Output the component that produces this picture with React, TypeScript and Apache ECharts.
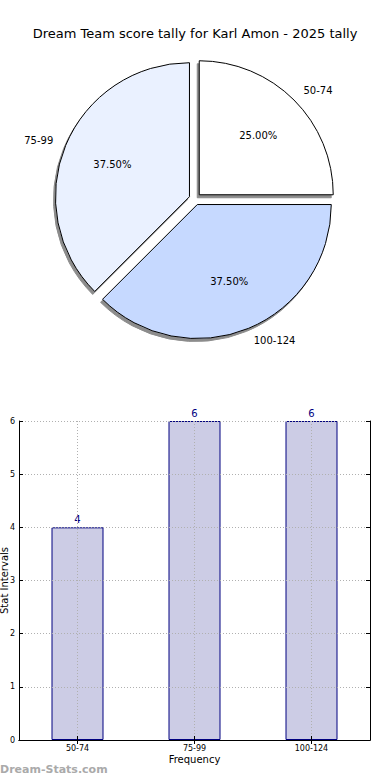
import React, { useEffect, useRef } from "react";
import * as echarts from "echarts";

const titleText = "Dream Team score tally for Karl Amon - 2025 tally";
const categories = ["50-74", "75-99", "100-124"];
const counts = [4, 6, 6];
const pieColors = ["#ffffff", "#eaf1ff", "#c6d9ff"];
const yTicks = [0, 1, 2, 3, 4, 5, 6];
const FONT = "DejaVu Sans";

export default function App() {
  const ref = useRef<HTMLDivElement>(null);
  useEffect(() => {
    if (!ref.current) return;
    const chart = echarts.init(ref.current, undefined, { renderer: "svg" });
    const total = counts.reduce((a, b) => a + b, 0);
    const pieData = categories.map((c, i) => ({
      name: c,
      value: counts[i],
      selected: true,
      itemStyle: { color: pieColors[i] },
    }));
    const R = 134;
    chart.setOption({
      animation: false,
      textStyle: { fontFamily: FONT },
      title: {
        text: titleText,
        left: "center",
        top: 22,
        textStyle: { fontFamily: FONT, fontSize: 13, fontWeight: "normal", color: "#000" },
      },
      grid: {
        left: 19,
        top: 421,
        width: 351,
        height: 319,
        show: false,
        containLabel: false,
        outerBoundsMode: "none",
      },
      xAxis: [
        {
          type: "category",
          data: categories,
          z: 3,
          axisLine: { show: true, lineStyle: { color: "#000", width: 1 } },
          axisTick: { show: true, inside: true, alignWithLabel: true, length: 4, lineStyle: { color: "#000" } },
          axisLabel: { fontSize: 8, color: "#000", margin: 4, fontFamily: FONT },
          splitLine: { show: true, alignWithLabel: true, lineStyle: { color: "#b0b0b0", type: [1, 2] } },
          name: "Frequency",
          nameLocation: "middle",
          nameGap: 14,
          nameMoveOverlap: false,
          nameTextStyle: { fontSize: 10, color: "#000", fontFamily: FONT },
        },
        {
          type: "category",
          data: categories,
          position: "top",
          z: 3,
          axisLine: { show: true, lineStyle: { color: "#000", width: 1 } },
          axisTick: { show: true, inside: true, alignWithLabel: true, length: 4, lineStyle: { color: "#000" } },
          axisLabel: { show: false },
          splitLine: { show: false },
        },
      ],
      yAxis: [
        {
          type: "value",
          min: 0,
          max: 6,
          interval: 1,
          z: 3,
          axisLine: { show: true, lineStyle: { color: "#000", width: 1 } },
          axisTick: { show: true, inside: true, length: 4, lineStyle: { color: "#000" } },
          axisLabel: {
            fontSize: 8,
            color: "#000",
            margin: 4,
            fontFamily: FONT,
            formatter: (v: number) => (yTicks.includes(v) ? String(v) : ""),
          },
          splitLine: { show: true, lineStyle: { color: "#b0b0b0", type: [1, 2] } },
          name: "Stat Intervals",
          nameLocation: "middle",
          nameRotate: 90,
          nameGap: 9.5,
          nameMoveOverlap: false,
          nameTextStyle: { fontSize: 10, color: "#000", fontFamily: FONT, verticalAlign: "bottom" },
        },
        {
          type: "value",
          min: 0,
          max: 6,
          interval: 1,
          position: "right",
          z: 3,
          axisLine: { show: true, lineStyle: { color: "#000", width: 1 } },
          axisTick: { show: true, inside: true, length: 4, lineStyle: { color: "#000" } },
          axisLabel: { show: false },
          splitLine: { show: false },
        },
      ],
      series: [
        {
          type: "pie",
          center: [195, 199],
          radius: [0, R],
          startAngle: 0,
          clockwise: false,
          selectedMode: "multiple",
          selectedOffset: 6,
          avoidLabelOverlap: false,
          itemStyle: {
            borderColor: "#000",
            borderWidth: 1,
            shadowColor: "rgba(0,0,0,0.45)",
            shadowOffsetX: -2,
            shadowOffsetY: 3,
            shadowBlur: 1,
          },
          label: {
            show: true,
            position: "outside",
            fontSize: 10,
            color: "#000",
            fontFamily: FONT,
            distanceToLabelLine: 0,
          },
          labelLine: { show: false, length: R * 0.1, length2: 0 },
          emphasis: { disabled: true },
          data: pieData,
        },
        {
          type: "pie",
          center: [195, 199],
          radius: [R * 0.2, R],
          startAngle: 0,
          clockwise: false,
          selectedMode: "multiple",
          selectedOffset: 6,
          silent: true,
          avoidLabelOverlap: false,
          itemStyle: { color: "transparent", borderWidth: 0 },
          label: {
            show: true,
            position: "inside",
            fontSize: 10,
            color: "#000",
            fontFamily: FONT,
            formatter: (p: any) => ((p.value / total) * 100).toFixed(2) + "%",
          },
          labelLine: { show: false },
          emphasis: { disabled: true },
          data: pieData.map((d) => ({ ...d, itemStyle: { color: "transparent" } })),
        },
        {
          type: "bar",
          data: counts,
          barWidth: 52,
          itemStyle: { color: "#ccccE5", borderColor: "#000080", borderWidth: 1 },
          label: {
            show: true,
            position: "top",
            distance: 3,
            fontSize: 10,
            color: "#000080",
            fontFamily: FONT,
          },
        },
      ],
      graphic: [
        {
          type: "text",
          left: 0,
          top: 764,
          style: {
            text: "Dream-Stats.com",
            fontSize: 11,
            fontWeight: "bold",
            fontFamily: FONT,
            fill: "#aaaaaa",
          },
        },
      ],
    });
    return () => chart.dispose();
  }, []);
  return (
    <div
      ref={ref}
      style={{ position: "fixed", left: 0, top: 0, width: 390, height: 780, background: "#fff" }}
    />
  );
}
